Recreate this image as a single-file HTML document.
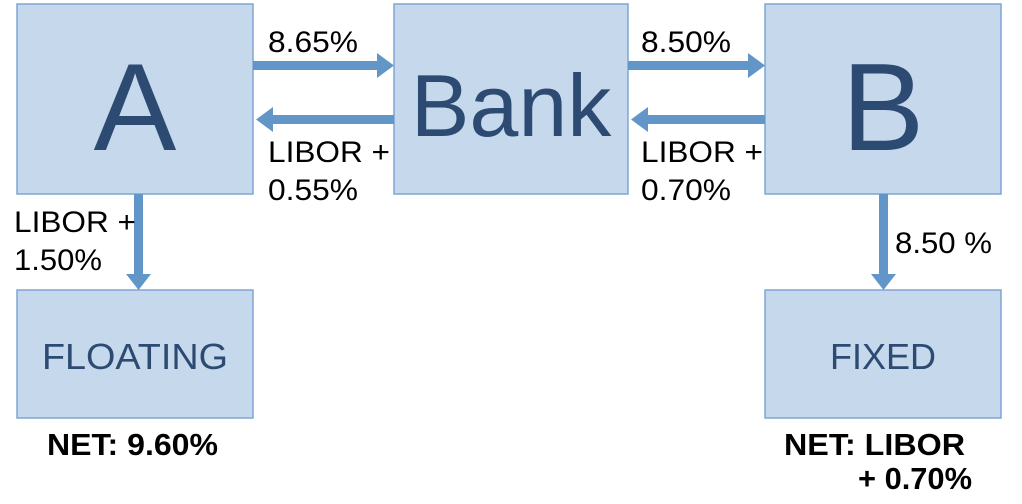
<!DOCTYPE html>
<html><head><style>
html,body{margin:0;padding:0;background:#fff;}
svg{display:block;}
text{font-family:"Liberation Sans",Arial,sans-serif;}
</style></head><body>
<svg width="1022" height="504" viewBox="0 0 1022 504" xmlns="http://www.w3.org/2000/svg">
<g fill="#c5d8ec" stroke="#7fa6d3" stroke-width="1.5">
<rect x="17" y="4" width="236" height="190"/>
<rect x="394" y="4" width="234" height="190"/>
<rect x="765" y="4" width="236" height="190"/>
<rect x="17" y="290" width="236" height="128"/>
<rect x="765" y="290" width="236" height="128"/>
</g>
<g fill="#6296c9">
<rect x="253" y="61" width="126" height="9"/><polygon points="377,53 394,65.5 377,78"/>
<rect x="271" y="115" width="123" height="9"/><polygon points="273,107 256,119.5 273,132"/>
<rect x="628" y="61" width="122" height="9"/><polygon points="748,53 765,65.5 748,78"/>
<rect x="646" y="115" width="119" height="9"/><polygon points="648,107 631,119.5 648,132"/>
<rect x="134" y="194" width="9" height="82"/><polygon points="126,274 138.5,290 151,274"/>
<rect x="879" y="194" width="9" height="82"/><polygon points="871,274 883.5,290 896,274"/>
</g>
<g fill="#2c4a72" text-anchor="middle">
<text x="135" y="150" font-size="124">A</text>
<text x="511" y="136" font-size="88">Bank</text>
<text x="883" y="150" font-size="124">B</text>
<text x="135" y="369" font-size="36" textLength="186" lengthAdjust="spacingAndGlyphs">FLOATING</text>
<text x="883" y="369" font-size="36">FIXED</text>
</g>
<g fill="#000" font-size="30">
<text x="268" y="52" textLength="90" lengthAdjust="spacingAndGlyphs">8.65%</text>
<text x="268" y="162" textLength="122" lengthAdjust="spacingAndGlyphs">LIBOR +</text>
<text x="268" y="200" textLength="90" lengthAdjust="spacingAndGlyphs">0.55%</text>
<text x="641" y="52" textLength="90" lengthAdjust="spacingAndGlyphs">8.50%</text>
<text x="641" y="162" textLength="122" lengthAdjust="spacingAndGlyphs">LIBOR +</text>
<text x="641" y="200" textLength="90" lengthAdjust="spacingAndGlyphs">0.70%</text>
<text x="14" y="232" textLength="122" lengthAdjust="spacingAndGlyphs">LIBOR +</text>
<text x="14" y="270" textLength="88" lengthAdjust="spacingAndGlyphs">1.50%</text>
<text x="895" y="253" textLength="97" lengthAdjust="spacingAndGlyphs">8.50 %</text>
</g>
<g fill="#000" font-size="31" font-weight="bold">
<text x="47" y="455" textLength="171" lengthAdjust="spacingAndGlyphs">NET: 9.60%</text>
<text x="784" y="455" textLength="181" lengthAdjust="spacingAndGlyphs">NET: LIBOR</text>
<text x="858" y="489" textLength="114" lengthAdjust="spacingAndGlyphs">+ 0.70%</text>
</g>
</svg>
</body></html>
